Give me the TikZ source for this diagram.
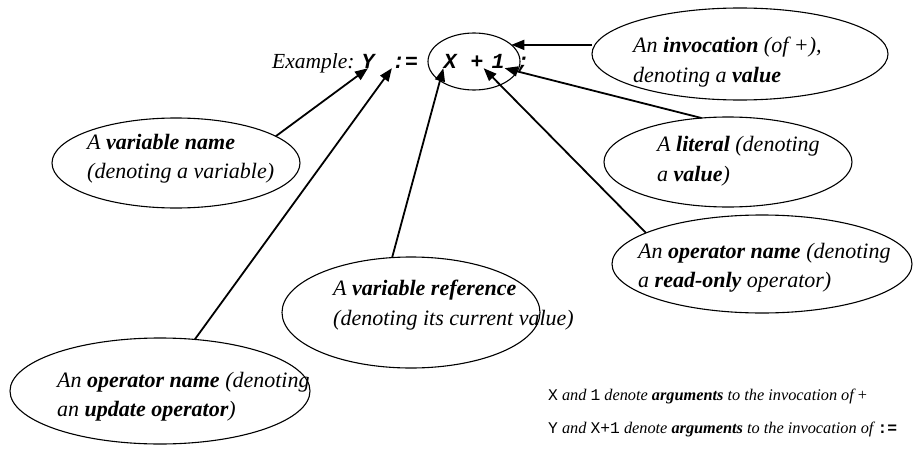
\documentclass[tikz,border=0pt]{standalone}
\usepackage{fontspec}
\setmainfont{Liberation Serif}
\setmonofont{Liberation Mono}
\usetikzlibrary{shapes.geometric,arrows.meta}
\begin{document}
\begin{tikzpicture}[x=1pt,y=-1pt,
  oval/.style={draw, ellipse, line width=1.1pt, inner sep=0pt, outer sep=0pt},
  txt/.style={anchor=west, inner sep=0pt, align=left, font=\fontsize{22}{29.5}\selectfont\itshape},
  line/.style={anchor=base west, inner sep=0pt, font=\fontsize{21.5}{29}\selectfont\itshape},
  note/.style={anchor=base west, inner sep=0pt, font=\fontsize{16.3}{20}\selectfont\itshape},
  tok/.style={anchor=base, inner sep=0pt, font=\fontsize{21.5}{29}\selectfont\ttfamily\bfseries\itshape},
  arr/.style={-{Triangle[length=13pt,width=10pt]}, line width=1.8pt}]
\useasboundingbox (0,0) rectangle (915,452);

% example expression
\node[line] (ex) at (272,68) {Example:};
\node[tok] (Y) at (368,68) {Y};
\node[tok] (assign) at (405,68) {:=};
\node[tok] (X) at (450,68) {X};
\node[tok] (plus) at (477,68) {+};
\node[tok] (one) at (498,68) {1};
\node[tok] (semi) at (523,68) {;};
\node[oval, minimum width=92pt, minimum height=57pt] (expr) at (474,61.5) {};

% ellipses
\node[oval, minimum width=296pt, minimum height=92pt] (inv) at (740,54) {};
\node[txt] (invt) at (633,62) {An \textbf{invocation} (of +),\\denoting a \textbf{value}};

\node[oval, minimum width=248pt, minimum height=90pt] (lit) at (728,162) {};
\node[txt] (litt) at (657,161) {A \textbf{literal} (denoting\\a \textbf{value})};

\node[oval, minimum width=300pt, minimum height=98pt] (ro) at (762,264) {};
\node[txt] (rot) at (638,267.5) {An \textbf{operator name} (denoting\\a \textbf{read-only} operator)};

\node[oval, minimum width=248pt, minimum height=90pt] (vn) at (176,163) {};
\node[txt] (vnt) at (87,158.5) {A \textbf{variable name}\\(denoting a variable)};

\node[oval, minimum width=258pt, minimum height=111pt] (vr) at (411,312.5) {};
\node[txt] (vrt) at (333,305) {A \textbf{variable reference}\\(denoting its current value)};

\node[oval, minimum width=300pt, minimum height=106pt] (up) at (160,391) {};
\node[txt] (upt) at (57,396.5) {An \textbf{operator name} (denoting\\an \textbf{update operator})};

% bottom notes
\node[note] (n1) at (548,400) {{\upshape\ttfamily X} and {\upshape\ttfamily 1} denote \textbf{arguments} to the invocation of {\upshape +}};
\node[note] (n2) at (548,433) {{\upshape\ttfamily Y} and {\upshape\ttfamily X+1} denote \textbf{arguments} to the invocation of {\upshape\ttfamily\bfseries :=}};

% connectors
\draw[arr] (inv.west |- expr.24) -- (expr.24);
\draw[arr] (lit.121) -- (one.south east);
\draw[arr] (ro.165) -- (plus.south east);
\draw[arr] (vr.109) -- (X.south west);
\draw[arr] (vn.15) -- (Y.south);
\draw[arr] (up.56) -- (assign.south west);
\end{tikzpicture}
\end{document}
